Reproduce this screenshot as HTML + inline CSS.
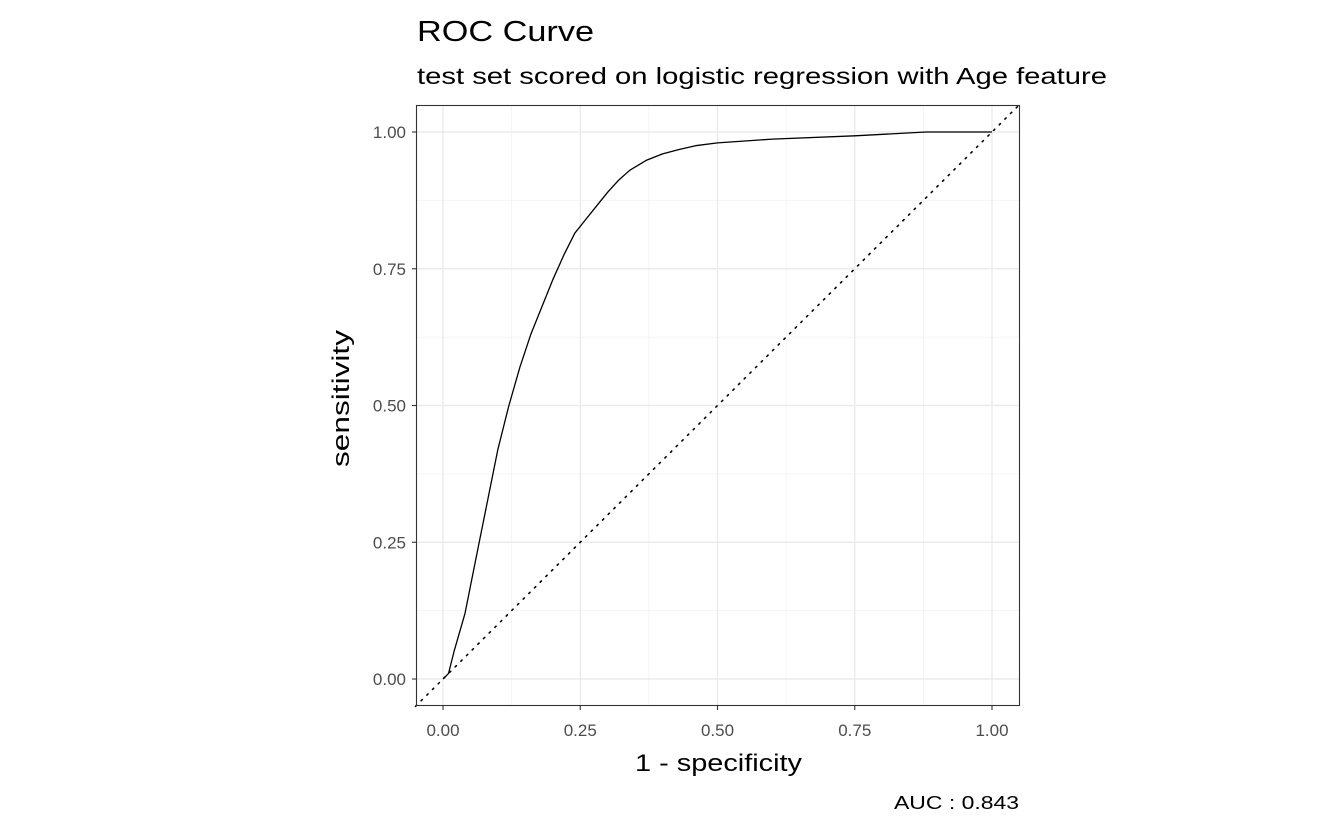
<!DOCTYPE html>
<html><head><meta charset="utf-8"><style>
body{margin:0;background:#fff;}
svg text{font-family:"Liberation Sans",Arial,sans-serif;}
</style></head><body>
<svg width="1344" height="830" viewBox="0 0 1344 830">
<rect width="1344" height="830" fill="#fff"/>
<text x="417" y="41" font-size="29" textLength="177" lengthAdjust="spacingAndGlyphs" fill="#000">ROC Curve</text>
<text x="417" y="84" font-size="23" textLength="690" lengthAdjust="spacingAndGlyphs" fill="#000">test set scored on logistic regression with Age feature</text>
<g id="grid"></g>
<g id="ticks"></g>
<line id="diag" stroke="#000" stroke-width="1.6" stroke-dasharray="1.6 6.4" stroke-linecap="round"/>
<path id="curve" fill="none" stroke="#000" stroke-width="1.3" stroke-linejoin="round"/>
<rect x="416.5" y="105.5" width="603" height="600" fill="none" stroke="#333" stroke-width="1.1"/>
<text x="635" y="771" font-size="24" textLength="167" lengthAdjust="spacingAndGlyphs" fill="#000">1 - specificity</text>
<text transform="translate(349,467) rotate(-90)" font-size="24" textLength="137" lengthAdjust="spacingAndGlyphs" fill="#000">sensitivity</text>
<text x="894" y="809" font-size="18" textLength="125" lengthAdjust="spacingAndGlyphs" fill="#000">AUC : 0.843</text>
</svg>
<script>
const fpr=[0,0.01,0.02,0.04,0.06,0.08,0.10,0.12,0.14,0.16,0.18,0.20,0.22,0.24,0.26,0.28,0.30,0.32,0.34,0.37,0.40,0.43,0.46,0.50,0.60,0.75,0.88,1];
const tpr=[0,0.01,0.05,0.12,0.22,0.32,0.42,0.50,0.57,0.63,0.68,0.73,0.775,0.815,0.84,0.865,0.89,0.912,0.93,0.948,0.96,0.968,0.975,0.98,0.987,0.993,1,1];
const tickVals=[0,0.25,0.5,0.75,1];
const tickLabels=["0.00","0.25","0.50","0.75","1.00"];
const X=v=>443+v*549, Y=v=>679-v*547;
const ns="http://www.w3.org/2000/svg";
const grid=document.getElementById('grid'), ticks=document.getElementById('ticks');
function ln(p,x1,y1,x2,y2,c,w){const l=document.createElementNS(ns,'line');l.setAttribute('x1',x1);l.setAttribute('y1',y1);l.setAttribute('x2',x2);l.setAttribute('y2',y2);l.setAttribute('stroke',c);l.setAttribute('stroke-width',w);p.appendChild(l);return l;}
for(let i=0;i<tickVals.length-1;i++){const m=(tickVals[i]+tickVals[i+1])/2;
 const a=ln(grid,X(m),105,X(m),705,'#f2f2f2',0.8);
 
 
 const b=ln(grid,416,Y(m),1019,Y(m),'#f2f2f2',0.8);
 
 }
tickVals.forEach((v,i)=>{
 const a=ln(grid,X(v),105,X(v),705,'#ebebeb',1.4);
 
 
 const b=ln(grid,416,Y(v),1019,Y(v),'#ebebeb',1.4);
 
 
 const tx=ln(ticks,X(v),706,X(v),710,'#333',1.1);
 
 
 const ty=ln(ticks,412,Y(v),416,Y(v),'#333',1.1);
 
 
 let t=document.createElementNS(ns,'text');t.setAttribute('x',X(v));t.setAttribute('y',736);t.setAttribute('text-anchor','middle');t.setAttribute('font-size','17');t.setAttribute('fill','#4d4d4d');t.textContent=tickLabels[i];
 
 
 ticks.appendChild(t);
 t=document.createElementNS(ns,'text');t.setAttribute('x',406);t.setAttribute('y',Y(v)+6);t.setAttribute('text-anchor','end');t.setAttribute('font-size','17');t.setAttribute('fill','#4d4d4d');t.textContent=tickLabels[i];
 
 
 ticks.appendChild(t);
});
const d=document.getElementById('diag');
d.setAttribute('x1',X(-0.05));d.setAttribute('y1',Y(-0.05));d.setAttribute('x2',X(1.05));d.setAttribute('y2',Y(1.05));
document.getElementById('curve').setAttribute('d',fpr.map((f,i)=>(i?'L':'M')+X(f).toFixed(1)+','+Y(tpr[i]).toFixed(1)).join(''));
</script>
</body></html>
